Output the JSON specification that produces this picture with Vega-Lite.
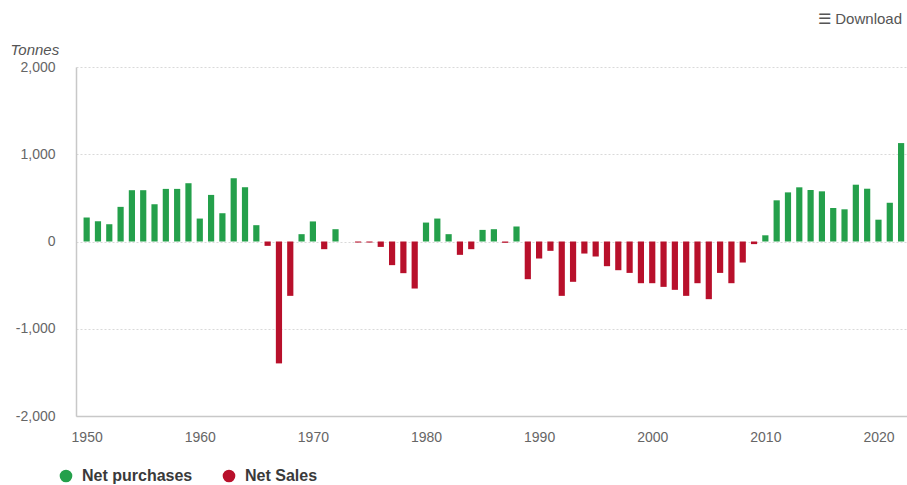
{
  "$schema": "https://vega.github.io/schema/vega-lite/v6.json",
  "autosize": {"type": "none"},
  "width": 831,
  "height": 349,
  "padding": {"left": 76, "top": 67, "right": 0, "bottom": 69},
  "background": "white",
  "config": {
    "view": {"stroke": null},
    "font": "Liberation Sans"
  },
  "title": {
    "text": "☰ Download",
    "anchor": "end",
    "frame": "group",
    "orient": "top",
    "offset": 15,
    "dx": -5,
    "fontSize": 15,
    "fontWeight": "normal",
    "color": "#555555",
    "font": "Liberation Sans"
  },
  "data": {
    "values": [
      {"year": 1950, "value": 275, "type": "Net purchases"},
      {"year": 1951, "value": 232, "type": "Net purchases"},
      {"year": 1952, "value": 198, "type": "Net purchases"},
      {"year": 1953, "value": 397, "type": "Net purchases"},
      {"year": 1954, "value": 588, "type": "Net purchases"},
      {"year": 1955, "value": 588, "type": "Net purchases"},
      {"year": 1956, "value": 427, "type": "Net purchases"},
      {"year": 1957, "value": 603, "type": "Net purchases"},
      {"year": 1958, "value": 603, "type": "Net purchases"},
      {"year": 1959, "value": 668, "type": "Net purchases"},
      {"year": 1960, "value": 263, "type": "Net purchases"},
      {"year": 1961, "value": 534, "type": "Net purchases"},
      {"year": 1962, "value": 324, "type": "Net purchases"},
      {"year": 1963, "value": 725, "type": "Net purchases"},
      {"year": 1964, "value": 622, "type": "Net purchases"},
      {"year": 1965, "value": 187, "type": "Net purchases"},
      {"year": 1966, "value": -50, "type": "Net Sales"},
      {"year": 1967, "value": -1397, "type": "Net Sales"},
      {"year": 1968, "value": -623, "type": "Net Sales"},
      {"year": 1969, "value": 84, "type": "Net purchases"},
      {"year": 1970, "value": 230, "type": "Net purchases"},
      {"year": 1971, "value": -88, "type": "Net Sales"},
      {"year": 1972, "value": 141, "type": "Net purchases"},
      {"year": 1974, "value": -12, "type": "Net Sales"},
      {"year": 1975, "value": -12, "type": "Net Sales"},
      {"year": 1976, "value": -62, "type": "Net Sales"},
      {"year": 1977, "value": -271, "type": "Net Sales"},
      {"year": 1978, "value": -363, "type": "Net Sales"},
      {"year": 1979, "value": -539, "type": "Net Sales"},
      {"year": 1980, "value": 217, "type": "Net purchases"},
      {"year": 1981, "value": 263, "type": "Net purchases"},
      {"year": 1982, "value": 84, "type": "Net purchases"},
      {"year": 1983, "value": -153, "type": "Net Sales"},
      {"year": 1984, "value": -88, "type": "Net Sales"},
      {"year": 1985, "value": 133, "type": "Net purchases"},
      {"year": 1986, "value": 141, "type": "Net purchases"},
      {"year": 1987, "value": -15, "type": "Net Sales"},
      {"year": 1988, "value": 172, "type": "Net purchases"},
      {"year": 1989, "value": -432, "type": "Net Sales"},
      {"year": 1990, "value": -195, "type": "Net Sales"},
      {"year": 1991, "value": -107, "type": "Net Sales"},
      {"year": 1992, "value": -623, "type": "Net Sales"},
      {"year": 1993, "value": -462, "type": "Net Sales"},
      {"year": 1994, "value": -138, "type": "Net Sales"},
      {"year": 1995, "value": -172, "type": "Net Sales"},
      {"year": 1996, "value": -283, "type": "Net Sales"},
      {"year": 1997, "value": -329, "type": "Net Sales"},
      {"year": 1998, "value": -360, "type": "Net Sales"},
      {"year": 1999, "value": -478, "type": "Net Sales"},
      {"year": 2000, "value": -478, "type": "Net Sales"},
      {"year": 2001, "value": -520, "type": "Net Sales"},
      {"year": 2002, "value": -554, "type": "Net Sales"},
      {"year": 2003, "value": -623, "type": "Net Sales"},
      {"year": 2004, "value": -478, "type": "Net Sales"},
      {"year": 2005, "value": -661, "type": "Net Sales"},
      {"year": 2006, "value": -360, "type": "Net Sales"},
      {"year": 2007, "value": -478, "type": "Net Sales"},
      {"year": 2008, "value": -241, "type": "Net Sales"},
      {"year": 2009, "value": -30, "type": "Net Sales"},
      {"year": 2010, "value": 71, "type": "Net purchases"},
      {"year": 2011, "value": 472, "type": "Net purchases"},
      {"year": 2012, "value": 563, "type": "Net purchases"},
      {"year": 2013, "value": 621, "type": "Net purchases"},
      {"year": 2014, "value": 590, "type": "Net purchases"},
      {"year": 2015, "value": 575, "type": "Net purchases"},
      {"year": 2016, "value": 384, "type": "Net purchases"},
      {"year": 2017, "value": 369, "type": "Net purchases"},
      {"year": 2018, "value": 651, "type": "Net purchases"},
      {"year": 2019, "value": 605, "type": "Net purchases"},
      {"year": 2020, "value": 250, "type": "Net purchases"},
      {"year": 2021, "value": 444, "type": "Net purchases"},
      {"year": 2022, "value": 1128, "type": "Net purchases"}
    ]
  },
  "mark": {"type": "bar", "size": 6.2, "clip": true},
  "encoding": {
    "x": {
      "field": "year",
      "type": "quantitative",
      "scale": {"domain": [1949.5, 2022.08], "nice": false, "zero": false},
      "axis": {
        "values": [1950, 1960, 1970, 1980, 1990, 2000, 2010, 2020],
        "format": "d",
        "title": null,
        "grid": false,
        "ticks": false,
        "labelPadding": 14,
        "labelFontSize": 14,
        "labelColor": "#666666",
        "labelFont": "Liberation Sans",
        "domainColor": "#c8c8c8",
        "domainWidth": 1.5,
        "labelFlush": false
      }
    },
    "y": {
      "field": "value",
      "type": "quantitative",
      "scale": {"domain": [-2000, 2000], "nice": false},
      "axis": {
        "values": [-2000, -1000, 0, 1000, 2000],
        "format": ",d",
        "labelExpr": "replace(datum.label, '\u2212', '-')",
        "title": "Tonnes",
        "titleAngle": 0,
        "titleAlign": "left",
        "titleBaseline": "alphabetic",
        "titleX": -66,
        "titleY": -13,
        "titleFontStyle": "italic",
        "titleFontWeight": "normal",
        "titleFontSize": 15,
        "titleColor": "#555555",
        "titleFont": "Liberation Sans",
        "ticks": false,
        "labelPadding": 21,
        "labelFontSize": 14,
        "labelColor": "#666666",
        "labelFont": "Liberation Sans",
        "grid": true,
        "gridColor": "#d9d9d9",
        "gridDash": [2, 2],
        "domain": true,
        "domainColor": "#c8c8c8",
        "domainWidth": 1.5
      }
    },
    "color": {
      "field": "type",
      "type": "nominal",
      "scale": {"domain": ["Net purchases", "Net Sales"], "range": ["#24a04b", "#b8102b"]},
      "legend": {
        "title": null,
        "orient": "none",
        "direction": "horizontal",
        "legendX": -18,
        "legendY": 401,
        "symbolType": "circle",
        "symbolSize": 160,
        "symbolStrokeWidth": 0,
        "labelFontSize": 16,
        "labelFontWeight": "bold",
        "labelColor": "#3a3a3a",
        "labelFont": "Liberation Sans",
        "labelOffset": 8,
        "columnPadding": 28
      }
    }
  }
}
